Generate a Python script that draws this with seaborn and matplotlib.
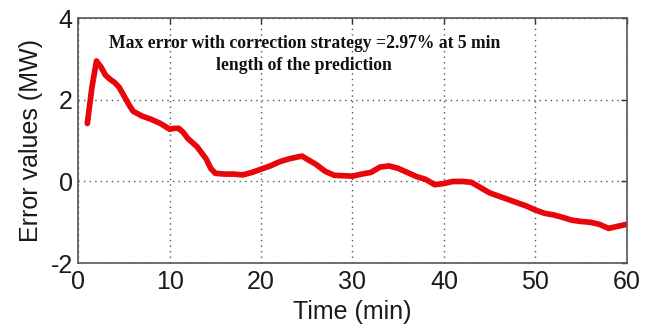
import matplotlib
matplotlib.use("Agg")
import matplotlib.pyplot as plt
import pandas as pd
import seaborn as sns

# values
time_min = [1, 1.5, 2, 2.5, 3, 3.5, 4, 4.5, 5, 5.5, 6, 7, 8, 9, 10, 10.5, 11, 11.5,
            12, 13, 14, 14.5, 15, 16, 17, 18, 19, 20, 21, 22, 23, 24, 24.5, 25, 26,
            27, 28, 29, 30, 31, 32, 33, 34, 35, 36, 37, 38, 39, 40, 41, 42, 43, 44,
            45, 46, 47, 48, 49, 50, 51, 52, 53, 54, 55, 56, 57, 58, 59, 60]
error_mw = [1.42, 2.3, 2.95, 2.8, 2.6, 2.5, 2.42, 2.3, 2.1, 1.9, 1.72, 1.6, 1.52, 1.42,
            1.28, 1.3, 1.3, 1.2, 1.05, 0.85, 0.55, 0.32, 0.2, 0.18, 0.18, 0.16, 0.22,
            0.3, 0.38, 0.48, 0.55, 0.6, 0.62, 0.55, 0.42, 0.25, 0.15, 0.14, 0.13, 0.18,
            0.22, 0.35, 0.38, 0.32, 0.22, 0.12, 0.05, -0.08, -0.05, 0.0, 0.0, -0.02,
            -0.15, -0.28, -0.36, -0.44, -0.52, -0.6, -0.7, -0.78, -0.82, -0.88, -0.95,
            -0.98, -1.0, -1.05, -1.15, -1.1, -1.05]

x_ticks = [0, 10, 20, 30, 40, 50, 60]
y_ticks = [-2, 0, 2, 4]
note = "Max error with correction strategy =2.97% at 5 min\nlength of the prediction"

df = pd.DataFrame({"Time (min)": time_min, "Error values (MW)": error_mw})

sns.set_style("white")
plt.rcParams["font.family"] = ["Liberation Sans", "DejaVu Sans"]
plt.rcParams["axes.unicode_minus"] = False

fig = plt.figure(figsize=(6.57, 3.36), dpi=100)
ax = fig.add_axes([0.119, 0.217, 0.835, 0.729])

sns.lineplot(data=df, x="Time (min)", y="Error values (MW)", ax=ax,
             color="#e8060a", linewidth=4.1, solid_joinstyle="round")

ax.set_xlim(0, 60)
ax.set_ylim(-2, 4)
ax.set_xticks(x_ticks)
ax.set_yticks(y_ticks)
ax.grid(True, linestyle=(0, (1, 3)), color="#555555", linewidth=1.0)
ax.tick_params(direction="in", length=4, width=1, labelsize=18, colors="#333333",
               top=True, right=True, labelcolor="#1a1a1a")
ax.tick_params(axis="x", pad=5)
ax.tick_params(axis="y", pad=4)
for spine in ax.spines.values():
    spine.set_color("#555555")
    spine.set_linewidth(1.2)
ax.set_xlabel("Time (min)", fontsize=18, labelpad=4, color="#1a1a1a")
ax.set_ylabel("Error values (MW)", fontsize=18, labelpad=5, color="#1a1a1a")

ax.text(0.412, 0.93, note, transform=ax.transAxes, ha="center", va="top",
        family="Liberation Serif", fontweight="bold", fontsize=12.7,
        linespacing=1.35, color="#111111")

fig.savefig("out.png", dpi=100)
